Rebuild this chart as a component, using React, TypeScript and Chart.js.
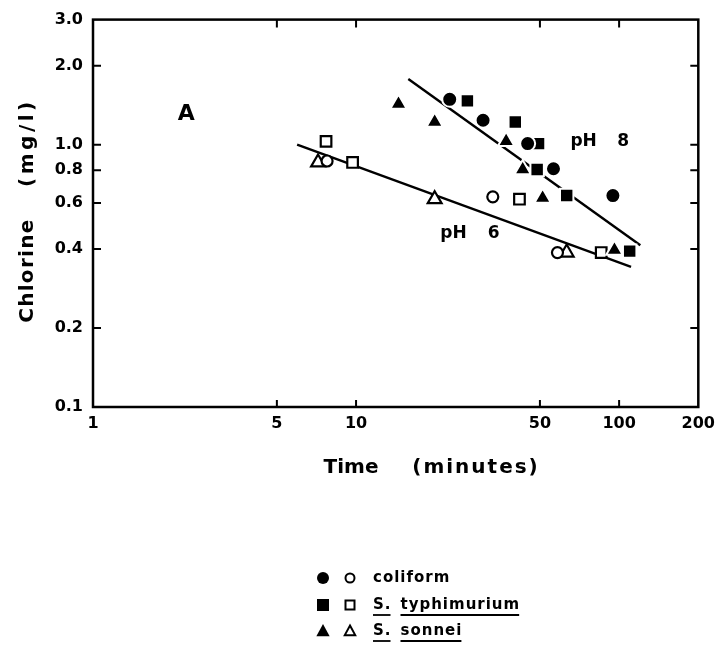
import React, { useEffect, useRef } from 'react';
import { Chart, registerables } from 'chart.js';

Chart.register(...registerables);

// ---- Data (time in minutes, chlorine in mg/l) ----
const xTickValues = [1, 5, 10, 50, 100, 200];
const yTickValues = [0.1, 0.2, 0.4, 0.6, 0.8, 1.0, 2.0, 3.0];
const xTickMarks = [5, 10, 50, 100];
const yTickMarks = [0.2, 0.4, 0.6, 0.8, 1.0, 2.0];

// pH 8 (filled symbols)
const coliformPH8: [number, number][] = [[22.7, 1.49], [30.4, 1.24], [44.9, 1.01], [56.3, 0.81], [94.7, 0.64]];
const typhiPH8: [number, number][] = [[26.5, 1.47], [40.3, 1.22], [49.4, 1.01], [48.8, 0.805], [63.2, 0.64], [109.7, 0.393]];
const sonneiPH8: [number, number][] = [[14.5, 1.43], [19.9, 1.22], [37.2, 1.03], [43.0, 0.805], [51.2, 0.627], [96.0, 0.397]];

// pH 6 (open symbols)
const coliformPH6: [number, number][] = [[7.76, 0.867], [33.1, 0.633], [58.3, 0.388]];
const typhiPH6: [number, number][] = [[7.69, 1.03], [9.7, 0.856], [41.8, 0.62], [85.5, 0.388]];
const sonneiPH6: [number, number][] = [[7.17, 0.856], [19.9, 0.62], [63.2, 0.388]];

// fitted lines
const linePH8: [number, number][] = [[15.8, 1.78], [120.4, 0.414]];
const linePH6: [number, number][] = [[5.97, 1.0], [111, 0.342]];

// in-plot labels (data coordinates)
const plotLabels: { text: string; x: number; y: number; size: number }[] = [
  { text: 'A', x: 2.1, y: 1.31, size: 22 },
  { text: 'pH', x: 65.3, y: 1.03, size: 17 },
  { text: '8', x: 98.3, y: 1.03, size: 17 },
  { text: 'pH', x: 20.9, y: 0.458, size: 17 },
  { text: '6', x: 31.7, y: 0.458, size: 17 },
];

const legendRows = [
  { style: 'circle', parts: ['coliform'], underline: false },
  { style: 'rect', parts: ['S.', 'typhimurium'], underline: true },
  { style: 'triangle', parts: ['S.', 'sonnei'], underline: true },
];

const FONT = '"DejaVu Sans", sans-serif';

const toXY = (arr: [number, number][]) => arr.map(([x, y]) => ({ x, y }));

function drawShape(ctx: CanvasRenderingContext2D, style: string, x: number, y: number, r: number, filled: boolean) {
  ctx.beginPath();
  if (style === 'circle') {
    ctx.arc(x, y, r, 0, Math.PI * 2);
  } else if (style === 'rect') {
    ctx.rect(x - r, y - r, 2 * r, 2 * r);
  } else {
    ctx.moveTo(x, y - r);
    ctx.lineTo(x + r * 0.95, y + r * 0.75);
    ctx.lineTo(x - r * 0.95, y + r * 0.75);
    ctx.closePath();
  }
  if (filled) {
    ctx.fillStyle = '#000';
    ctx.fill();
  } else {
    ctx.fillStyle = '#fff';
    ctx.fill();
    ctx.lineWidth = 2;
    ctx.strokeStyle = '#000';
    ctx.stroke();
  }
}

const framePlugin = {
  id: 'frameAndText',
  beforeDraw(chart: any) {
    const ctx = chart.ctx;
    ctx.save();
    ctx.fillStyle = '#fff';
    ctx.fillRect(0, 0, chart.width, chart.height);
    ctx.restore();
  },
  afterDraw(chart: any) {
    const ctx: CanvasRenderingContext2D = chart.ctx;
    const { left, right, top, bottom } = chart.chartArea;
    const xs = chart.scales.x;
    const ys = chart.scales.y;
    ctx.save();
    ctx.strokeStyle = '#000';
    ctx.lineWidth = 2.5;
    ctx.strokeRect(left, top, right - left, bottom - top);
    ctx.lineWidth = 2;
    ctx.beginPath();
    for (const v of yTickMarks) {
      const py = ys.getPixelForValue(v);
      ctx.moveTo(left, py); ctx.lineTo(left + 8, py);
      ctx.moveTo(right, py); ctx.lineTo(right - 8, py);
    }
    for (const v of xTickMarks) {
      const px = xs.getPixelForValue(v);
      ctx.moveTo(px, bottom); ctx.lineTo(px, bottom - 7);
      ctx.moveTo(px, top); ctx.lineTo(px, top + 8);
    }
    ctx.stroke();

    ctx.fillStyle = '#000';
    // in-plot labels
    ctx.textBaseline = 'middle';
    ctx.textAlign = 'left';
    for (const l of plotLabels) {
      ctx.font = `bold ${l.size}px ${FONT}`;
      ctx.fillText(l.text, xs.getPixelForValue(l.x), ys.getPixelForValue(l.y));
    }

    // axis titles
    const c: any = ctx;
    ctx.textBaseline = 'alphabetic';
    ctx.textAlign = 'center';
    ctx.font = `bold 20px ${FONT}`;
    c.letterSpacing = '0px';
    ctx.fillText('Time', left + 258, bottom + 66);
    c.letterSpacing = '2px';
    ctx.fillText('(minutes)', left + 383, bottom + 66);

    ctx.save();
    ctx.translate(33, top + 251);
    ctx.rotate(-Math.PI / 2);
    c.letterSpacing = '1.3px';
    ctx.fillText('Chlorine', 0, 0);
    ctx.restore();
    ctx.save();
    ctx.translate(33, top + 123);
    ctx.rotate(-Math.PI / 2);
    c.letterSpacing = '3.5px';
    ctx.fillText('(mg/l)', 0, 0);
    ctx.restore();

    // legend
    const rowY = [578, 605, 631];
    legendRows.forEach((row, i) => {
      const y = rowY[i];
      const sz = row.style === 'circle' ? 6 : row.style === 'rect' ? 6 : 7;
      drawShape(ctx, row.style, 323, y, sz, true);
      drawShape(ctx, row.style, 350, y, sz - 1.5, false);
      c.letterSpacing = '1px';
      ctx.font = `bold 15px ${FONT}`;
      ctx.textAlign = 'left';
      ctx.textBaseline = 'middle';
      ctx.fillStyle = '#000';
      ctx.strokeStyle = '#000';
      let x = 373;
      row.parts.forEach((p) => {
        ctx.fillText(p, x, y);
        const w = ctx.measureText(p).width;
        if (row.underline) {
          ctx.lineWidth = 1.8;
          ctx.beginPath();
          ctx.moveTo(x, y + 10);
          ctx.lineTo(x + w - 1, y + 10);
          ctx.stroke();
        }
        x += w + 9;
      });
    });
    ctx.restore();
  },
};

export default function App() {
  const ref = useRef<HTMLCanvasElement>(null);
  useEffect(() => {
    const canvas = ref.current;
    if (!canvas) return;
    const filled = (data: [number, number][], style: string, r: number) => ({
      data: toXY(data),
      pointStyle: style,
      pointRadius: r,
      backgroundColor: '#000',
      borderColor: '#fff',
      borderWidth: 2,
      showLine: false,
      order: 1,
    });
    const open = (data: [number, number][], style: string, r: number) => ({
      data: toXY(data),
      pointStyle: style,
      pointRadius: r,
      backgroundColor: '#fff',
      borderColor: '#000',
      borderWidth: 2.2,
      showLine: false,
      order: 1,
    });
    const line = (data: [number, number][]) => ({
      data: toXY(data),
      pointRadius: 0,
      borderColor: '#000',
      borderWidth: 2.4,
      showLine: true,
      order: 10,
    });
    const tickFont = { family: FONT, size: 16, weight: 'bold' as const };
    const chart = new Chart(canvas, {
      type: 'scatter',
      data: {
        datasets: [
          filled(coliformPH8, 'circle', 7.5),
          filled(typhiPH8, 'rect', 9.5),
          filled(sonneiPH8, 'triangle', 9.5),
          open(coliformPH6, 'circle', 5.5),
          open(typhiPH6, 'rect', 7.5),
          open(sonneiPH6, 'triangle', 8),
          line(linePH8),
          line(linePH6),
        ] as any,
      },
      options: {
        animation: false,
        responsive: false,
        devicePixelRatio: 1,
        layout: { padding: { left: 0, right: 21, top: 18, bottom: 0 } },
        plugins: { legend: { display: false }, tooltip: { enabled: false } },
        scales: {
          x: {
            type: 'logarithmic',
            min: 1,
            max: 200,
            grid: { display: false, drawTicks: false },
            border: { display: false },
            ticks: {
              font: tickFont,
              color: '#000',
              padding: 7,
              maxRotation: 0,
              autoSkip: false,
              callback: (v: any) => String(v),
            },
            afterBuildTicks: (s: any) => { s.ticks = xTickValues.map((v) => ({ value: v })); },
            afterFit: (s: any) => { s.height = 251; },
          },
          y: {
            type: 'logarithmic',
            min: 0.1,
            max: 3,
            grid: { display: false, drawTicks: false },
            border: { display: false },
            ticks: {
              font: tickFont,
              color: '#000',
              padding: 10,
              autoSkip: false,
              callback: (v: any) => Number(v).toFixed(1),
            },
            afterBuildTicks: (s: any) => { s.ticks = yTickValues.map((v) => ({ value: v })); },
            afterFit: (s: any) => { s.width = 93; },
          },
        },
      } as any,
      plugins: [framePlugin],
    });
    return () => chart.destroy();
  }, []);
  return (
    <div style={{ position: 'absolute', left: 0, top: 0, width: 722, height: 658, background: '#fff' }}>
      <canvas ref={ref} width={722} height={658} style={{ display: 'block', width: 722, height: 658 }} />
    </div>
  );
}
